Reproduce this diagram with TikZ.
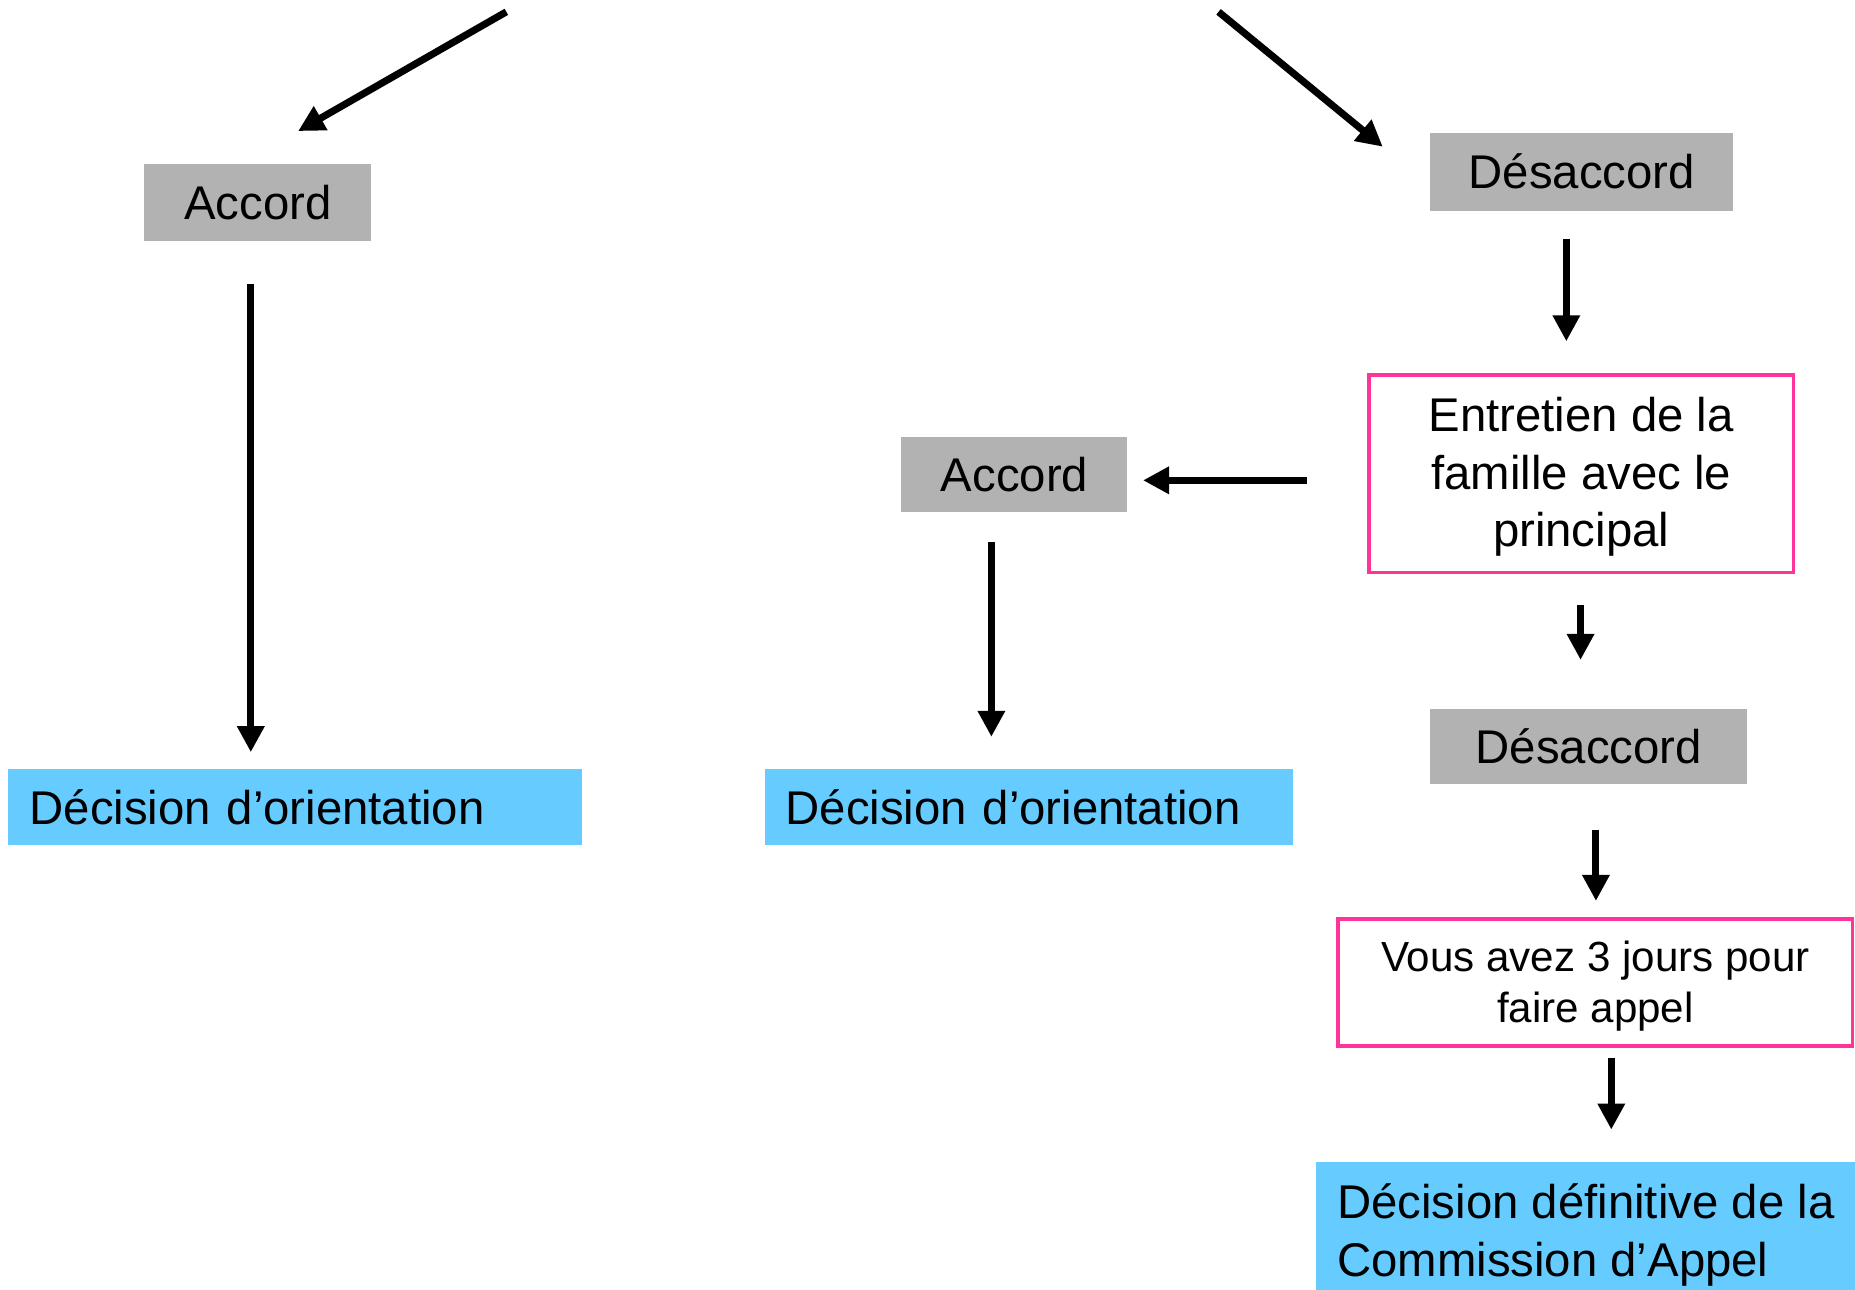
\documentclass[tikz,border=0pt]{standalone}
\usepackage{fontspec}
\setmainfont{Liberation Sans}
\usetikzlibrary{arrows.meta,calc}
\definecolor{boxgray}{HTML}{B2B2B2}
\definecolor{boxblue}{HTML}{66CCFF}
\definecolor{boxpink}{HTML}{FF3399}
\begin{document}
\begin{tikzpicture}[x=1pt,y=-1pt,
  arr/.style={line width=6pt,-{Triangle[length=22pt,width=22pt]}},
  graybox/.style={fill=boxgray,inner sep=0pt,font=\fontsize{40}{48}\selectfont},
  bluebox/.style={fill=boxblue,inner ysep=0pt,font=\fontsize{40}{49}\selectfont,align=left},
  pinkbox/.style={draw=boxpink,line width=3pt,fill=white,inner sep=0pt,align=center}]
\useasboundingbox (0,0) rectangle (1568,1090);
\fill[white] (0,0) rectangle (1568,1090);

\node[graybox,minimum width=192pt,minimum height=65pt] (acc1) at (218,171.5) {Accord};
\node[graybox,minimum width=256pt,minimum height=66pt] (des1) at (1337,145) {Désaccord};
\node[pinkbox,minimum width=359pt,minimum height=167pt,font=\fontsize{40}{48.5}\selectfont] (ent) at (1336.5,400.5) {\rule{0pt}{34pt}Entretien de la\\famille avec le\\principal};
\node[graybox,minimum width=191pt,minimum height=64pt] (acc2) at (857.5,401) {Accord};
\node[bluebox,minimum width=485pt,minimum height=64pt,inner xsep=18pt,text width=449pt] (dec1) at (249.5,682) {Décision d’orientation};
\node[bluebox,minimum width=446pt,minimum height=64pt,inner xsep=17pt,text width=412pt] (dec2) at (870,682) {Décision d’orientation};
\node[graybox,minimum width=268pt,minimum height=64pt] (des2) at (1343,631) {Désaccord};
\node[pinkbox,minimum width=435pt,minimum height=107pt,font=\fontsize{35.6}{43}\selectfont] (vous) at (1348.5,830.5) {\rule{0pt}{32pt}Vous avez 3 jours pour\\faire appel};
\node[bluebox,minimum width=455pt,minimum height=123pt,inner xsep=18pt] (def) at (1340.5,1043.5) {Décision définitive de la\\Commission d’Appel};

\coordinate (s1) at (428,10);
\coordinate (s2) at (1030,10);

\draw[arr] (s1) -- ($(acc1.north)+(34,-28)$);
\draw[arr] (s2) -- ($(des1.west)+(-40,-21)$);
\draw[arr] ($(acc1.south)+(-6,36)$) -- ($(dec1.north)+(-37.5,-14)$);
\draw[arr] ($(des1.south)+(-13,24)$) -- ($(ent.north)+(-12.5,-27)$);
\draw[arr] ($(ent.west)+(-51,5.5)$) -- ($(acc2.east)+(13,5)$);
\draw[arr] ($(acc2.south)+(-19.5,25)$) -- ($(dec2.north)+(-32,-27)$);
\draw[arr] ($(ent.south)+(-0.5,26)$) -- ($(des2.north)+(-7,-41)$);
\draw[arr] ($(des2.south)+(6,38)$) -- ($(vous.north)+(0.5,-14)$);
\draw[arr] ($(vous.south)+(13.5,9)$) -- ($(def.north)+(21.5,-27)$);
\end{tikzpicture}
\end{document}
